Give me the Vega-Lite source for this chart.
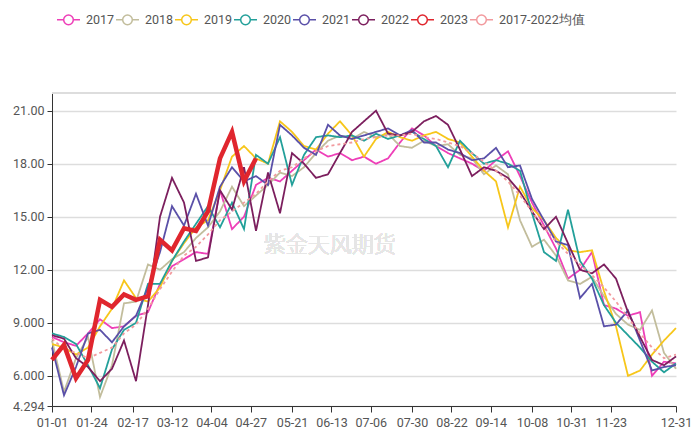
{
  "$schema": "https://vega.github.io/schema/vega-lite/v6.json",
  "width": 624,
  "height": 313,
  "autosize": {"type": "none"},
  "padding": {"left": 52, "top": 93, "right": 18, "bottom": 26},
  "background": "white",
  "config": {
    "view": {"stroke": null},
    "font": "Roboto",
    "axis": {"labelColor": "#555555", "labelFontSize": 12, "domainColor": "#333333", "tickColor": "#333333", "titleFontSize": 0}
  },
  "datasets": {
    "wide": [
      {"d":"2023-01-01","a":8.2,"b":8.0,"c":7.8,"e":8.4,"f":7.6,"g":8.3,"h":6.9,"m":8.1},
      {"d":"2023-01-08","a":7.9,"b":5.1,"c":7.6,"e":8.2,"f":4.9,"g":8.1,"h":7.75,"m":7.5},
      {"d":"2023-01-15","a":7.7,"b":7.0,"c":7.2,"e":7.8,"f":6.5,"g":7.0,"h":5.87,"m":7.3},
      {"d":"2023-01-22","a":8.4,"b":8.2,"c":7.6,"e":6.6,"f":8.4,"g":6.5,"h":6.9,"m":7.0},
      {"d":"2023-01-29","a":9.2,"b":4.8,"c":8.8,"e":5.3,"f":8.6,"g":5.7,"h":10.3,"m":7.3},
      {"d":"2023-02-05","a":8.7,"b":6.6,"c":9.8,"e":7.5,"f":7.9,"g":6.4,"h":9.9,"m":7.6},
      {"d":"2023-02-12","a":8.8,"b":10.1,"c":11.4,"e":8.6,"f":8.8,"g":8.0,"h":10.6,"m":8.4},
      {"d":"2023-02-19","a":9.4,"b":10.2,"c":10.4,"e":9.0,"f":9.4,"g":5.7,"h":10.3,"m":8.9},
      {"d":"2023-02-26","a":9.6,"b":12.3,"c":10.2,"e":11.2,"f":11.0,"g":10.0,"h":10.5,"m":9.8},
      {"d":"2023-03-05","a":11.2,"b":12.0,"c":11.0,"e":11.2,"f":13.0,"g":15.0,"h":13.7,"m":10.9},
      {"d":"2023-03-12","a":12.2,"b":12.6,"c":12.5,"e":12.5,"f":15.6,"g":17.2,"h":13.1,"m":11.9},
      {"d":"2023-03-19","a":12.6,"b":13.0,"c":13.5,"e":13.6,"f":14.5,"g":15.8,"h":14.35,"m":12.8},
      {"d":"2023-03-26","a":13.0,"b":13.8,"c":14.4,"e":14.6,"f":16.3,"g":12.5,"h":14.2,"m":13.3},
      {"d":"2023-04-02","a":12.9,"b":14.4,"c":14.8,"e":15.6,"f":14.5,"g":12.7,"h":15.3,"m":14.0},
      {"d":"2023-04-09","a":16.5,"b":15.3,"c":16.5,"e":14.4,"f":16.7,"g":16.5,"h":18.3,"m":14.8},
      {"d":"2023-04-16","a":14.3,"b":16.7,"c":18.4,"e":15.8,"f":17.8,"g":15.4,"h":19.8,"m":15.3},
      {"d":"2023-04-23","a":15.0,"b":15.6,"c":19.0,"e":14.3,"f":17.0,"g":17.8,"h":17.0,"m":15.8},
      {"d":"2023-04-30","a":16.8,"b":16.2,"c":18.3,"e":18.5,"f":17.3,"g":14.2,"h":18.3,"m":16.3},
      {"d":"2023-05-07","a":17.2,"b":16.8,"c":18.0,"e":18.0,"f":16.8,"g":17.5,"m":17.0},
      {"d":"2023-05-14","a":17.0,"b":17.5,"c":20.4,"e":19.5,"f":20.2,"g":15.2,"m":17.6},
      {"d":"2023-05-21","a":17.6,"b":17.3,"c":19.8,"e":16.8,"f":19.6,"g":18.6,"m":17.8},
      {"d":"2023-05-28","a":18.2,"b":17.8,"c":19.0,"e":18.5,"f":18.9,"g":18.0,"m":18.3},
      {"d":"2023-06-04","a":18.8,"b":18.6,"c":18.8,"e":19.5,"f":18.5,"g":17.2,"m":18.7},
      {"d":"2023-06-11","a":18.4,"b":19.3,"c":19.7,"e":19.6,"f":20.2,"g":17.4,"m":19.0},
      {"d":"2023-06-18","a":18.6,"b":19.6,"c":20.4,"e":19.5,"f":19.6,"g":18.6,"m":19.1},
      {"d":"2023-06-25","a":18.2,"b":19.4,"c":19.6,"e":19.6,"f":19.4,"g":19.8,"m":19.2},
      {"d":"2023-07-02","a":18.4,"b":19.8,"c":18.4,"e":19.3,"f":19.6,"g":20.4,"m":19.4},
      {"d":"2023-07-09","a":18.0,"b":19.5,"c":19.4,"e":19.7,"f":19.8,"g":21.0,"m":19.5},
      {"d":"2023-07-16","a":18.3,"b":19.7,"c":19.8,"e":19.4,"f":20.0,"g":19.7,"m":19.6},
      {"d":"2023-07-23","a":19.2,"b":19.0,"c":19.5,"e":19.6,"f":19.6,"g":19.6,"m":19.6},
      {"d":"2023-07-30","a":20.0,"b":18.9,"c":19.3,"e":19.8,"f":19.9,"g":19.8,"m":19.7},
      {"d":"2023-08-06","a":19.6,"b":19.3,"c":19.6,"e":19.4,"f":19.2,"g":20.4,"m":19.5},
      {"d":"2023-08-13","a":19.0,"b":19.0,"c":19.8,"e":19.0,"f":19.2,"g":20.7,"m":19.4},
      {"d":"2023-08-20","a":18.6,"b":19.1,"c":19.4,"e":17.8,"f":18.8,"g":20.2,"m":19.2},
      {"d":"2023-08-27","a":18.3,"b":18.5,"c":19.2,"e":19.3,"f":18.6,"g":18.8,"m":19.0},
      {"d":"2023-09-03","a":18.0,"b":18.3,"c":18.4,"e":18.6,"f":18.2,"g":17.3,"m":18.6},
      {"d":"2023-09-10","a":17.6,"b":17.4,"c":17.6,"e":18.0,"f":18.3,"g":17.8,"m":18.1},
      {"d":"2023-09-17","a":18.2,"b":17.9,"c":17.0,"e":18.2,"f":18.9,"g":17.6,"m":17.6},
      {"d":"2023-09-24","a":18.7,"b":17.4,"c":14.4,"e":18.0,"f":17.8,"g":17.2,"m":17.0},
      {"d":"2023-10-01","a":17.3,"b":14.8,"c":16.7,"e":17.6,"f":17.9,"g":16.4,"m":16.2},
      {"d":"2023-10-08","a":15.8,"b":13.3,"c":15.5,"e":15.2,"f":16.0,"g":15.3,"m":15.3},
      {"d":"2023-10-15","a":14.5,"b":13.7,"c":14.8,"e":13.0,"f":14.8,"g":14.3,"m":14.4},
      {"d":"2023-10-22","a":13.2,"b":12.8,"c":13.8,"e":12.5,"f":13.6,"g":15.0,"m":13.6},
      {"d":"2023-10-29","a":11.5,"b":11.4,"c":13.1,"e":15.4,"f":13.4,"g":13.5,"m":12.9},
      {"d":"2023-11-05","a":12.0,"b":11.2,"c":13.0,"e":12.5,"f":10.4,"g":12.0,"m":12.3},
      {"d":"2023-11-12","a":13.0,"b":11.6,"c":13.1,"e":11.5,"f":11.2,"g":11.8,"m":11.7},
      {"d":"2023-11-19","a":10.0,"b":10.5,"c":10.8,"e":10.0,"f":8.8,"g":12.3,"m":11.0},
      {"d":"2023-11-26","a":9.8,"b":9.5,"c":8.8,"e":9.0,"f":8.9,"g":11.5,"m":10.2},
      {"d":"2023-12-03","a":9.4,"b":8.9,"c":6.0,"e":8.3,"f":9.7,"g":9.6,"m":9.3},
      {"d":"2023-12-10","a":9.6,"b":8.6,"c":6.3,"e":7.6,"f":8.0,"g":8.2,"m":8.4},
      {"d":"2023-12-17","a":6.0,"b":9.7,"c":7.2,"e":6.8,"f":6.3,"g":6.9,"m":7.6},
      {"d":"2023-12-24","a":6.8,"b":7.3,"c":8.0,"e":6.2,"f":6.5,"g":6.6,"m":7.0},
      {"d":"2023-12-31","a":6.7,"b":6.4,"c":8.7,"e":6.7,"f":6.6,"g":7.1,"m":7.2}
    ]
  },
  "data": {"name": "wide"},
  "transform": [
    {"fold": ["a", "b", "c", "e", "f", "g", "m", "h"], "as": ["code", "price"]},
    {"lookup": "code", "from": {"data": {"values": [
      {"code": "a", "series": "2017"},
      {"code": "b", "series": "2018"},
      {"code": "c", "series": "2019"},
      {"code": "e", "series": "2020"},
      {"code": "f", "series": "2021"},
      {"code": "g", "series": "2022"},
      {"code": "h", "series": "2023"},
      {"code": "m", "series": "2017-2022均值"}
    ]}, "key": "code", "fields": ["series"]}},
    {"filter": "isValid(datum.price)"}
  ],
  "layer": [
    {
      "mark": {"type": "rule", "color": "#dddddd", "strokeWidth": 1.5},
      "encoding": {"y": {"datum": 22, "type": "quantitative"}}
    },
    {
      "mark": {"type": "text", "text": "紫金天风期货", "font": "Noto Sans CJK SC", "fontSize": 22, "fontWeight": 300, "color": "#e6e6e6"},
      "encoding": {
        "x": {"datum": {"year": 2023, "month": 6, "date": 12, "utc": true}, "type": "temporal"},
        "y": {"datum": 13.4, "type": "quantitative"}
      }
    },
    {
      "transform": [{"filter": "datum.code != 'h'"}],
      "mark": {"type": "line", "strokeWidth": 1.8, "strokeJoin": "miter"},
      "encoding": {
        "x": {"field": "d", "type": "temporal"},
        "y": {"field": "price", "type": "quantitative"},
        "color": {"field": "series", "type": "nominal"},
        "strokeDash": {"field": "series", "type": "nominal",
          "scale": {"domain": ["2017", "2018", "2019", "2020", "2021", "2022", "2017-2022均值"], "range": [[1,0],[1,0],[1,0],[1,0],[1,0],[1,0],[3,3]]},
          "legend": null}
      }
    },
    {
      "transform": [{"filter": "datum.code == 'h'"}],
      "mark": {"type": "line", "strokeWidth": 4.5, "strokeJoin": "miter"},
      "encoding": {
        "x": {"field": "d", "type": "temporal", "scale": {"type": "utc", "domain": [{"year": 2023, "month": 1, "date": 1, "utc": true}, {"year": 2023, "month": 12, "date": 31, "utc": true}]},
          "axis": {"title": null, "format": "%m-%d", "grid": false, "tickSize": 6, "labelPadding": 4, "labelFontSize": 12.5, "labelOverlap": false, "labelFlush": false,
            "values": [
              {"year": 2023, "month": 1, "date": 1, "utc": true},
              {"year": 2023, "month": 1, "date": 24, "utc": true},
              {"year": 2023, "month": 2, "date": 17, "utc": true},
              {"year": 2023, "month": 3, "date": 12, "utc": true},
              {"year": 2023, "month": 4, "date": 4, "utc": true},
              {"year": 2023, "month": 4, "date": 27, "utc": true},
              {"year": 2023, "month": 5, "date": 21, "utc": true},
              {"year": 2023, "month": 6, "date": 13, "utc": true},
              {"year": 2023, "month": 7, "date": 6, "utc": true},
              {"year": 2023, "month": 7, "date": 30, "utc": true},
              {"year": 2023, "month": 8, "date": 22, "utc": true},
              {"year": 2023, "month": 9, "date": 14, "utc": true},
              {"year": 2023, "month": 10, "date": 8, "utc": true},
              {"year": 2023, "month": 10, "date": 31, "utc": true},
              {"year": 2023, "month": 11, "date": 23, "utc": true},
              {"year": 2023, "month": 12, "date": 31, "utc": true}
            ]}},
        "y": {"field": "price", "type": "quantitative",
          "scale": {"domain": [4.294, 22], "nice": false, "zero": false},
          "axis": {"title": null, "values": [4.294, 6, 9, 12, 15, 18, 21], "format": ".4r", "tickSize": 5, "labelPadding": 3, "labelFontSize": 12.5,
            "grid": true, "gridColor": "#dddddd", "gridWidth": 1.5}},
        "color": {"field": "series", "type": "nominal",
          "scale": {"domain": ["2017", "2018", "2019", "2020", "2021", "2022", "2023", "2017-2022均值"],
                    "range": ["#ee3fb8", "#c2bd9c", "#f7c61a", "#23a09a", "#5a50a8", "#7c1f5e", "#e0262e", "#f29a9e"]},
          "legend": {"title": null, "orient": "none", "direction": "horizontal", "columns": 8, "legendX": 4, "legendY": -86,
            "symbolType": "M-1,0L-0.42,0M0.42,0L1,0M0.42,0A0.42,0.42,0,1,1,-0.42,0A0.42,0.42,0,1,1,0.42,0",
            "symbolSize": 529, "symbolStrokeWidth": 1.5, "symbolFillColor": "#ffffff", "labelFontSize": 12.5, "labelColor": "#555555",
            "labelOffset": 5, "columnPadding": -6}}
      }
    }
  ]
}
